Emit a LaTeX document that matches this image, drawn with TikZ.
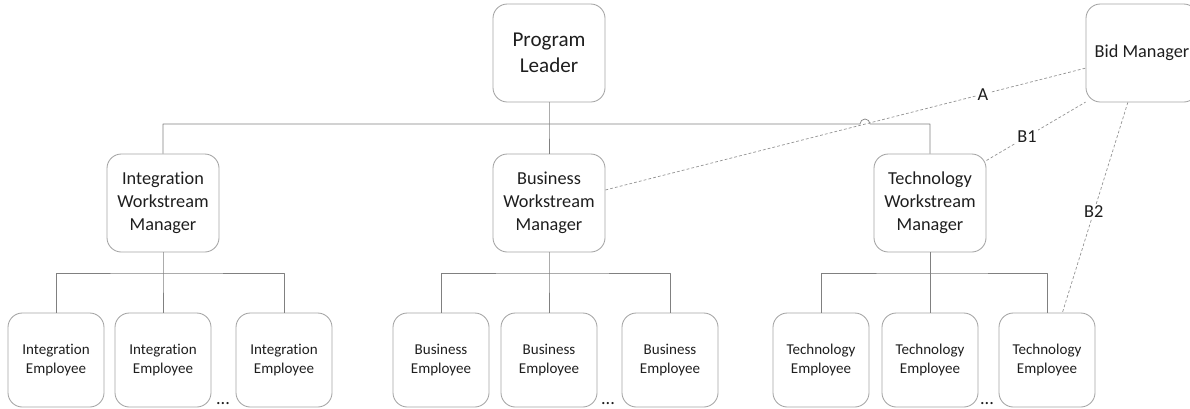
\documentclass[tikz,border=0pt]{standalone}
\usepackage{fontspec}
\setmainfont{Carlito}[Ligatures=NoCommon]
\definecolor{boxline}{HTML}{A3A3A3}
\definecolor{treeline}{HTML}{808080}
\definecolor{txt}{HTML}{1E1E1E}
\begin{document}
\begin{tikzpicture}[x=0.025cm,y=-0.025cm,line join=round,
	box/.style={draw=boxline,line width=0.6pt,rounded corners=0.36cm,align=center,text=txt,inner sep=0pt},
	leadbox/.style={box,minimum width=2.8cm,minimum height=2.45cm,font=\fontsize{15}{18.5}\selectfont},
	mgrbox/.style={box,minimum width=2.8cm,minimum height=2.45cm,font=\fontsize{13}{16.4}\selectfont},
	empbox/.style={box,minimum width=2.4cm,minimum height=2.35cm,font=\fontsize{10.7}{13.5}\selectfont},
	more/.style={text=txt,inner sep=0pt,font=\fontsize{13}{13}\selectfont},
	tree/.style={draw=treeline,line width=0.5pt},
	link/.style={draw=treeline!85,line width=0.5pt,dash pattern=on 2pt off 1.5pt},
	lbl/.style={fill=white,inner sep=1pt,text=txt,font=\fontsize{13}{16}\selectfont}]
	\useasboundingbox (0,0) rectangle (1190,408);
	\clip (0,0) rectangle (1190,408);
	% top level
	\node[leadbox] (lead) at (549,53) {Program\\Leader};
	\node[mgrbox] (bid) at (1142,53) {Bid Manager};
	% workstream managers
	\node[mgrbox] (int) at (163,203) {Integration\\Workstream\\Manager};
	\node[mgrbox] (bus) at (549,203) {Business\\Workstream\\Manager};
	\node[mgrbox] (tec) at (930,203) {Technology\\Workstream\\Manager};
	% employees
	\node[empbox] (ie1) at (56,360) {Integration\\Employee};
	\node[empbox] (ie2) at (163,360) {Integration\\Employee};
	\node[empbox] (ie3) at (284,360) {Integration\\Employee};
	\node[empbox] (be1) at (441,360) {Business\\Employee};
	\node[empbox] (be2) at (549,360) {Business\\Employee};
	\node[empbox] (be3) at (670,360) {Business\\Employee};
	\node[empbox] (te1) at (821,360) {Technology\\Employee};
	\node[empbox] (te2) at (930,360) {Technology\\Employee};
	\node[empbox] (te3) at (1047,360) {Technology\\Employee};
	\node[more,anchor=base] (moreI) at (223,404) {...};
	\node[more,anchor=base] (moreB) at (608,404) {...};
	\node[more,anchor=base] (moreT) at (987,404) {...};
	% tree lines
	\coordinate (topJ) at (549,124);
	\coordinate (hop) at (865,124);
	\draw[tree] (lead.south) -- (topJ) -- (bus.north);
	\draw[tree] (int.north) |- ([xshift=-0.125cm]hop)
		arc[start angle=180,end angle=0,radius=0.125cm] -| (tec.north);
	\coordinate (intJ) at (163,273);
	\coordinate (busJ) at (549,273);
	\coordinate (tecJ) at (930,273);
	\draw[tree] (int.south) -- (intJ) -- (ie2.north);
	\draw[tree] (ie1.north) |- (intJ) -| (ie3.north);
	\draw[tree] (bus.south) -- (busJ) -- (be2.north);
	\draw[tree] (be1.north) |- (busJ) -| (be3.north);
	\draw[tree] (tec.south) -- (tecJ) -- (te2.north);
	\draw[tree] (te1.north) |- (tecJ) -| (te3.north);
	% bid manager links
	\draw[link] (bus.13) -- node[lbl,pos=0.786]{A} (bid.195);
	\draw[link] (tec.37) -- node[lbl,pos=0.41]{B1} (bid.221);
	\draw[link] (bid.254) -- node[lbl,pos=0.52]{B2} (te3.72);
\end{tikzpicture}
\end{document}
